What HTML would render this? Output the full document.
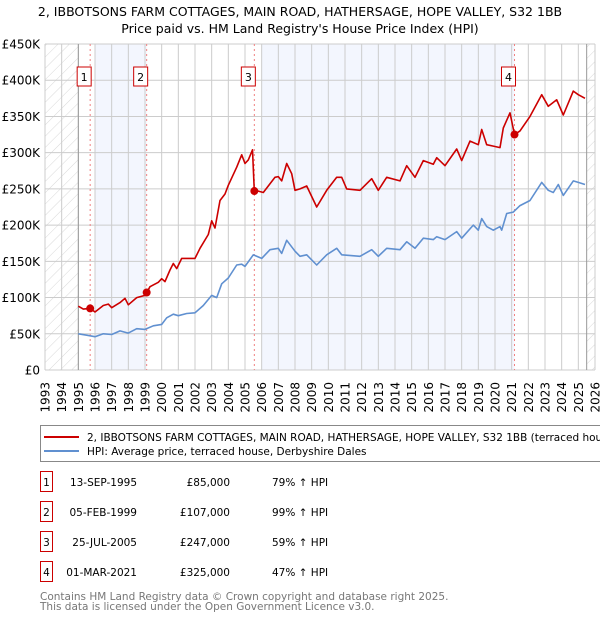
<!DOCTYPE html>
<html><head><meta charset="utf-8">
<style>
body{margin:0;background:#fff;width:600px;height:620px;overflow:hidden;font-family:"DejaVu Sans","Liberation Sans",sans-serif;}
svg{display:block}
</style></head>
<body>
<svg id="chart" width="600" height="620" xmlns="http://www.w3.org/2000/svg" font-family="DejaVu Sans, Liberation Sans, sans-serif">
<defs>
<pattern id="hatch" patternUnits="userSpaceOnUse" width="8" height="8" patternTransform="rotate(45)">
<line x1="0" y1="0" x2="0" y2="8" stroke="#d8d8d8" stroke-width="1"/>
</pattern>
</defs>
<text x="300" y="16" text-anchor="middle" font-size="12.5" fill="#000">2, IBBOTSONS FARM COTTAGES, MAIN ROAD, HATHERSAGE, HOPE VALLEY, S32 1BB</text>
<text x="300" y="33" text-anchor="middle" font-size="12.5" fill="#000">Price paid vs. HM Land Registry's House Price Index (HPI)</text>
<g id="plot"></g>
<g id="legend">
<rect x="40.5" y="425.5" width="570" height="36" fill="#fff" stroke="#888"/>
<line x1="44" y1="437" x2="79" y2="437" stroke="#cc0000" stroke-width="2"/>
<text x="87" y="441" font-size="10.5">2, IBBOTSONS FARM COTTAGES, MAIN ROAD, HATHERSAGE, HOPE VALLEY, S32 1BB (terraced house)</text>
<line x1="44" y1="451" x2="79" y2="451" stroke="#6090d0" stroke-width="2"/>
<text x="87" y="455" font-size="10.5">HPI: Average price, terraced house, Derbyshire Dales</text>
</g>
<g id="table" font-size="10.5"></g>
<text x="40" y="600" font-size="10.5" fill="#777">Contains HM Land Registry data © Crown copyright and database right 2025.</text>
<text x="40" y="610" font-size="10.5" fill="#777">This data is licensed under the Open Government Licence v3.0.</text>
</svg>
<script>
const yTicks=[0,50,100,150,200,250,300,350,400,450];
const yTickLabels=["£0","£50K","£100K","£150K","£200K","£250K","£300K","£350K","£400K","£450K"];
const years=[1993,1994,1995,1996,1997,1998,1999,2000,2001,2002,2003,2004,2005,2006,2007,2008,2009,2010,2011,2012,2013,2014,2015,2016,2017,2018,2019,2020,2021,2022,2023,2024,2025,2026];
const hpiT=[1995,1995.5,1996,1996.5,1997,1997.5,1998,1998.5,1999,1999.5,2000,2000.3,2000.7,2001,2001.5,2002,2002.5,2003,2003.3,2003.6,2004,2004.5,2004.8,2005,2005.5,2006,2006.5,2007,2007.2,2007.5,2008,2008.3,2008.7,2009.3,2009.9,2010.5,2010.8,2011.9,2012.6,2013,2013.5,2014.3,2014.7,2015.2,2015.7,2016.3,2016.5,2017,2017.7,2018,2018.7,2019,2019.2,2019.5,2019.9,2020.3,2020.4,2020.7,2021.1,2021.5,2022.1,2022.8,2023.2,2023.5,2023.8,2024.1,2024.7,2025,2025.4];
const hpiV=[50,48,46,50,49,54,51,57,56,61,63,72,77,75,78,79,89,103,100,119,127,145,146,143,159,154,166,168,161,179,164,157,159,145,159,168,159,157,166,157,168,166,177,168,182,180,184,180,191,182,200,193,209,198,193,198,193,216,218,227,234,259,248,245,256,241,261,259,256];
const priceT=[1995,1995.3,1995.7,1996,1996.5,1996.8,1997,1997.5,1997.8,1998,1998.5,1999,1999.1,1999.3,1999.8,2000,2000.2,2000.5,2000.7,2000.9,2001.2,2002,2002.3,2002.8,2003,2003.2,2003.5,2003.8,2004,2004.5,2004.8,2005,2005.2,2005.45,2005.56,2005.8,2006.1,2006.5,2006.8,2007,2007.2,2007.5,2007.8,2008,2008.3,2008.7,2009.3,2009.9,2010.5,2010.8,2011.1,2011.9,2012.6,2013,2013.5,2014.3,2014.7,2015.2,2015.7,2016.3,2016.5,2017,2017.7,2018,2018.5,2019,2019.2,2019.5,2019.9,2020.3,2020.5,2020.9,2021.17,2021.5,2022.1,2022.8,2023.2,2023.7,2024.1,2024.7,2025,2025.4];
const priceV=[88,84,85,80,89,91,86,93,99,90,100,103,107,115,121,126,122,138,147,140,154,154,168,187,206,196,234,243,255,280,297,285,290,304,247,247,245,257,266,267,261,285,271,248,250,254,225,248,266,266,250,248,264,248,266,261,282,266,289,284,293,282,305,289,316,311,332,311,309,307,334,355,325,330,350,380,364,373,352,385,380,375];
const saleT=[1995.71,1999.1,2005.56,2021.17];
const saleV=[85,107,247,325];
const saleLabels=["1","2","3","4"];
const saleDates=["13-SEP-1995","05-FEB-1999","25-JUL-2005","01-MAR-2021"];
const salePrices=["£85,000","£107,000","£247,000","£325,000"];
const saleDiff=["79% ↑ HPI","99% ↑ HPI","59% ↑ HPI","47% ↑ HPI"];

const NS="http://www.w3.org/2000/svg";
const X0=45,X1=595,Y0=370,Y1=44;
function xs(t){return X0+(t-1993)/(2026-1993)*(X1-X0);}
function ys(v){return Y0-v/450*(Y0-Y1);}
function mk(tag,attrs,parent){const e=document.createElementNS(NS,tag);for(const k in attrs)e.setAttribute(k,attrs[k]);parent.appendChild(e);return e;}
const plot=document.getElementById('plot');
const bands=[[1996,saleT[1]],[2006,saleT[3]]];
bands.forEach((b,i)=>{const r=mk('rect',{x:xs(b[0]),y:Y1,width:xs(b[1])-xs(b[0]),height:Y0-Y1,fill:'#f3f6fe'},plot);

});
[[1993,1995],[2025.5,2026]].forEach(h=>{const r=mk('rect',{x:xs(h[0]),y:Y1,width:xs(h[1])-xs(h[0]),height:Y0-Y1,fill:'url(#hatch)'},plot);

});
years.forEach(y=>{const l=mk('line',{x1:xs(y),x2:xs(y),y1:Y1,y2:Y0,stroke:'#ccc','stroke-width':1},plot);


const t=mk('text',{x:0,y:0,'font-size':12,'text-anchor':'end',transform:`translate(${xs(y)+4.5},382) rotate(-90)`},plot);
t.textContent=y;

});
yTicks.forEach((v,i)=>{const l=mk('line',{x1:X0,x2:X1,y1:ys(v),y2:ys(v),stroke:'#ccc','stroke-width':1},plot);


const t=mk('text',{x:40,y:ys(v)+4.5,'font-size':12,'text-anchor':'end'},plot);
t.textContent=yTickLabels[i];

});
[1995,2025.5].forEach(t=>{const l=mk('line',{x1:xs(t),x2:xs(t),y1:Y1,y2:Y0,stroke:'#999','stroke-width':1},plot);

});
saleT.forEach(t=>{const l=mk('line',{x1:xs(t),x2:xs(t),y1:Y1,y2:Y0,stroke:'#f08080','stroke-width':1,'stroke-dasharray':'2,3'},plot);

});
function pts(T,V){return T.map((t,i)=>xs(t).toFixed(1)+','+ys(V[i]).toFixed(1)).join(' ');}
const hl=mk('polyline',{points:pts(hpiT,hpiV),fill:'none',stroke:'#6090d0','stroke-width':1.6,'stroke-linejoin':'round'},plot);


const pl=mk('polyline',{points:pts(priceT,priceV),fill:'none',stroke:'#cc0000','stroke-width':1.6,'stroke-linejoin':'round'},plot);


saleT.forEach((t,i)=>{const c=mk('circle',{cx:xs(t),cy:ys(saleV[i]),r:4,fill:'#cc0000'},plot);


const g=mk('g',{},plot);


const bx=xs(t)-6;
mk('rect',{x:bx-7,y:67,width:14,height:19,fill:'#fff',stroke:'#cc0000','stroke-width':1},g);
const tx=mk('text',{x:bx,y:81,'font-size':11,'text-anchor':'middle'},g);tx.textContent=saleLabels[i];});
const tb=document.getElementById('table');
saleLabels.forEach((s,i)=>{const y=483+i*30;
const g=mk('g',{},tb);


mk('rect',{x:40.5,y:y-11.5,width:12,height:20,fill:'#fff',stroke:'#cc0000'},g);
const a=mk('text',{x:46.5,y:y+3,'text-anchor':'middle'},g);a.textContent=s;
const b=mk('text',{x:137,y:y+3,'text-anchor':'end'},g);b.textContent=saleDates[i];
const c=mk('text',{x:230,y:y+3,'text-anchor':'end'},g);c.textContent=salePrices[i];
const d=mk('text',{x:272,y:y+3},g);d.textContent=saleDiff[i];});
</script>
</body></html>
